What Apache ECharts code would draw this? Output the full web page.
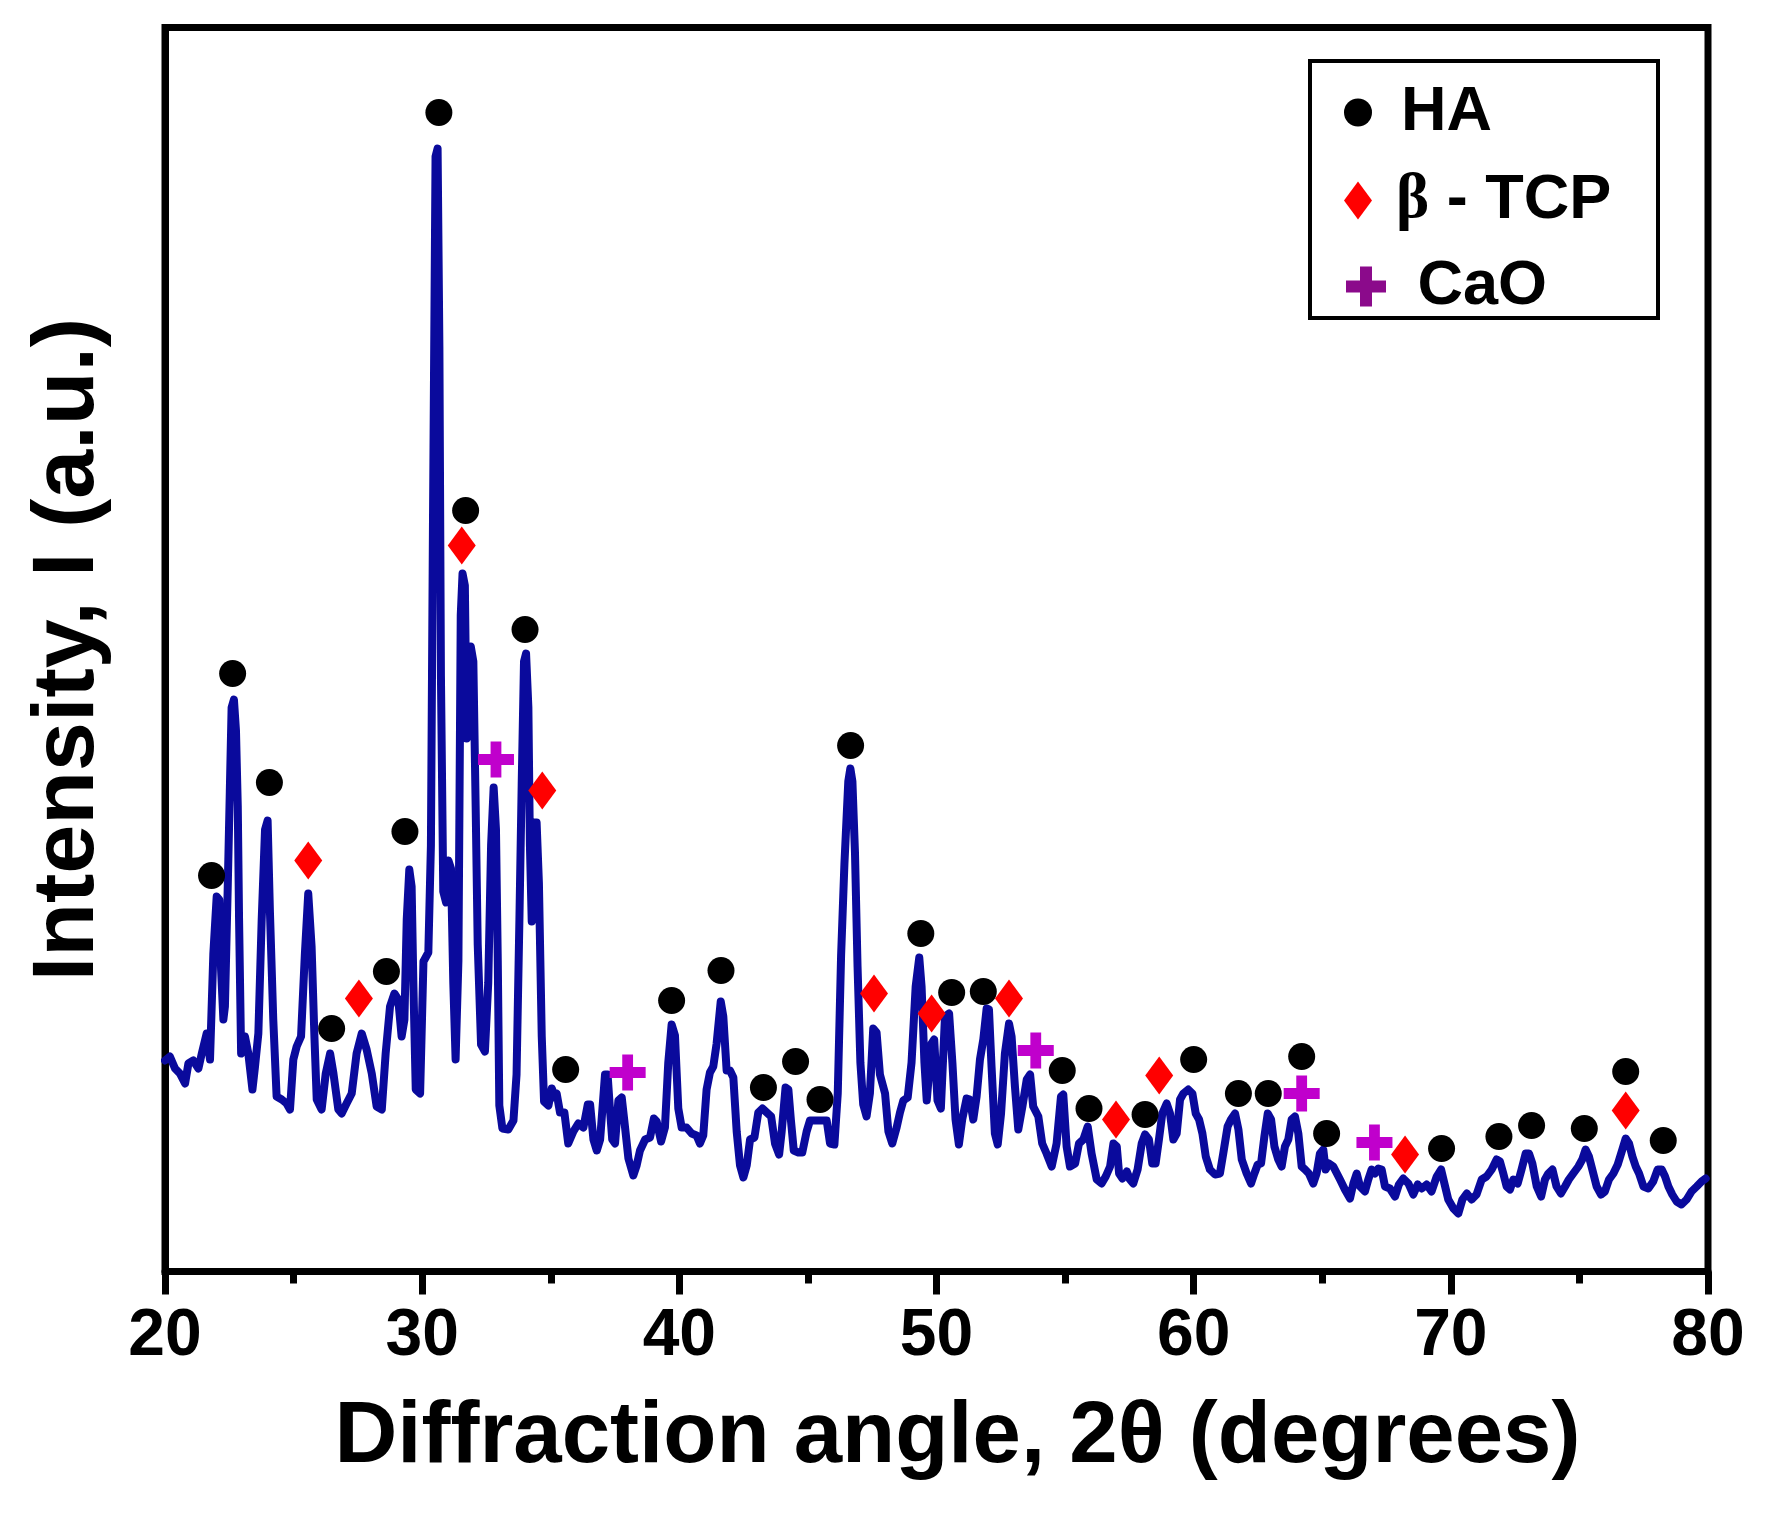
<!DOCTYPE html>
<html>
<head>
<meta charset="utf-8">
<script src="https://cdn.jsdelivr.net/npm/echarts@6/dist/echarts.min.js"></script>
<style>
html,body{margin:0;padding:0;background:#fff;}
#chart{width:1792px;height:1529px;}
</style>
</head>
<body>
<div id="chart"></div>
<script>
// XRD pattern: diffraction angle 2θ (degrees) and intensity (a.u.)
const twoTheta = [
20.00,20.19,20.39,20.58,20.78,20.91,21.10,21.30,21.43,21.62,21.75,21.88,22.01,22.11,22.18,22.27,22.33,22.44,22.52,22.59,22.68,22.76,22.83,22.88,22.96,23.11,23.24,23.40,23.50,23.63,23.76,23.89,23.99,24.08,24.21,24.34,24.54,24.73,24.86,24.99,25.12,25.29,25.44,25.57,25.70,25.81,25.90,26.09,26.25,26.42,26.55,26.74,26.87,27.06,27.26,27.45,27.65,27.84,28.04,28.23,28.43,28.58,28.75,28.92,29.07,29.20,29.31,29.40,29.50,29.59,29.66,29.75,29.92,30.05,30.24,30.34,
30.42,30.52,30.60,30.67,30.73,30.82,30.93,31.02,31.12,31.21,31.30,31.41,31.50,31.57,31.66,31.73,31.82,31.89,31.99,32.08,32.16,32.29,32.44,32.57,32.68,32.78,32.87,32.94,33.00,33.12,33.35,33.55,33.67,33.78,33.87,33.96,34.04,34.13,34.19,34.26,34.35,34.45,34.54,34.65,34.74,34.91,35.04,35.17,
35.23,35.36,35.53,35.68,35.88,36.07,36.27,36.44,36.53,36.66,36.79,36.92,37.11,37.21,37.30,37.39,37.50,37.63,37.76,37.86,38.02,38.21,38.34,38.47,38.67,38.86,39.01,39.12,39.29,39.44,39.57,39.70,39.83,39.96,40.09,40.28,40.48,40.67,40.80,40.93,41.06,41.19,41.32,41.45,41.61,41.71,41.84,41.97,42.10,42.23,42.36,42.49,42.62,42.75,42.92,43.07,43.23,43.40,43.57,43.72,43.88,43.98,44.13,44.24,44.34,44.45,44.63,44.78,44.95,45.08,45.21,45.34,45.53,45.73,45.86,46.03,46.16,46.29,46.42,46.57,46.65,46.73,46.83,46.93,47.04,47.15,47.28,47.41,47.54,47.67,47.80,48.00,48.13,48.28,48.45,48.58,48.71,48.88,49.03,49.19,49.33,49.42,49.53,49.62,49.68,49.81,49.91,50.04,50.17,
50.33,50.49,50.62,50.74,50.87,51.00,51.17,51.30,51.43,51.56,51.69,51.82,51.95,52.04,52.14,52.27,52.38,52.51,52.66,52.82,52.92,53.05,53.18,53.34,53.51,53.64,53.76,53.96,54.11,54.28,54.48,54.67,54.84,54.93,55.06,55.19,55.39,55.54,55.71,55.88,56.03,56.23,56.42,56.58,56.75,56.88,57.01,57.10,57.23,57.40,57.52,57.65,57.82,57.98,58.11,58.26,58.39,58.52,58.65,58.78,58.95,59.08,59.21,59.34,59.47,59.60,59.79,59.95,60.08,60.21,60.34,60.47,60.63,60.83,61.02,61.15,61.32,61.45,61.61,61.74,61.87,62.06,62.23,62.36,62.49,62.62,62.75,62.88,63.01,63.14,63.29,63.42,63.55,63.68,63.81,63.94,64.07,64.20,64.33,64.48,64.65,64.78,64.91,65.04,65.13,65.26,65.43,
65.69,65.88,66.08,66.21,66.34,66.47,66.66,66.79,66.92,67.05,67.18,67.31,67.44,67.63,67.83,67.98,68.15,68.35,68.54,68.71,68.87,69.06,69.25,69.45,69.62,69.75,69.90,70.10,70.29,70.45,70.62,70.81,71.00,71.20,71.39,71.59,71.78,71.91,72.04,72.17,72.30,72.43,72.60,72.75,72.91,73.04,73.17,73.34,73.51,73.66,73.79,73.95,74.11,74.28,74.44,74.59,74.76,74.96,75.11,75.24,75.37,75.50,75.67,75.84,75.99,76.15,76.32,76.49,76.67,76.80,76.93,77.06,77.19,77.32,77.49,77.68,77.87,78.04,78.20,78.33,78.46,78.61,78.78,78.97,79.17,79.36,79.56,79.75,79.91
];
const intensity = [
211,215,203,198,188,208,211,203,218,238,212,318,375,372,302,252,265,385,480,564,572,541,465,352,218,235,218,182,205,238,352,442,451,360,252,175,172,168,162,212,225,235,318,378,325,235,172,162,198,218,198,162,158,168,178,218,238,222,198,165,162,218,265,278,272,235,252,352,402,385,285,182,178,310,319,426,
748,1115,1123,924,595,380,369,411,403,289,212,311,656,698,686,533,579,625,610,465,327,227,220,289,426,484,442,311,166,143,142,151,197,350,487,610,618,564,426,350,449,449,388,235,170,166,183,174,
178,159,159,128,140,148,144,167,167,132,121,132,197,197,163,132,128,171,174,151,113,96,106,121,132,134,153,150,130,144,209,247,236,163,144,144,138,136,128,136,182,199,205,228,270,255,201,201,194,140,106,94,106,132,134,159,163,159,155,128,117,140,184,182,151,121,119,119,140,151,151,151,151,151,128,127,178,316,408,490,503,490,419,305,209,167,155,178,243,239,197,178,140,128,144,159,171,174,209,285,314,285,209,171,171,228,232,171,163,
255,258,208,152,127,152,173,172,152,175,212,232,263,262,205,138,127,158,218,248,235,185,142,165,192,197,165,155,128,118,105,128,175,177,125,105,108,128,132,145,118,92,88,95,105,128,125,98,93,100,92,88,102,128,137,132,108,108,132,158,168,158,132,138,172,178,182,178,158,152,138,115,102,97,98,118,145,152,158,142,112,98,88,98,107,108,135,158,152,125,112,105,125,132,152,155,138,105,102,98,88,98,118,122,102,108,105,
92,82,73,88,98,85,80,92,102,98,103,102,85,83,75,87,93,88,77,87,83,87,80,95,102,88,72,63,58,72,78,72,77,92,95,102,112,110,98,85,82,92,88,102,118,118,108,85,75,92,98,102,85,78,85,92,98,105,112,122,115,102,85,77,80,92,98,107,122,133,128,115,105,98,85,83,90,102,102,95,85,77,70,67,72,80,85,90,93
];
// Phase markers (2θ, marker height)
const haX  = [21.81,22.63,24.06,26.48,28.61,29.33,30.65,31.69,34.00,35.58,39.70,41.62,43.27,44.52,45.47,46.66,49.39,50.59,51.82,54.89,55.93,58.11,60.00,61.74,62.90,64.20,65.17,69.64,71.87,73.14,75.19,76.80,78.26];
const haY  = [396,598,489,243,300,440,1159,761,642,202,271,301,184,210,172,526,338,279,280,201,163,157,212,178,178,215,138,123,135,146,143,200,131];
const tcpX = [25.57,27.54,31.54,34.67,47.57,49.81,52.82,56.98,58.66,68.22,76.80];
const tcpY = [411,273,726,481,278,258,273,152,196,117,161];
const caoX = [32.87,37.99,53.86,64.20,67.03];
const caoY = [512,199,221,178,129];
const xTicks = [20,30,40,50,60,70,80];

const zip = (a,b) => a.map((v,i)=>[v,b[i]]);
const FONT = 'Liberation Sans';
const PLUS = 'path://M3.5,0h3v3.5h3.5v3h-3.5v3.5h-3v-3.5h-3.5v-3h3.5z';
const legendText = {fontFamily:FONT,fontWeight:'bold',fontSize:63,color:'#000'};

const chart = echarts.init(document.getElementById('chart'), null, {renderer:'canvas'});
chart.setOption({
  animation:false,
  backgroundColor:'#fff',
  grid:{left:165,right:84,top:27.5,bottom:257.5,show:true,borderColor:'#000',borderWidth:7,backgroundColor:'transparent'},
  xAxis:{
    type:'value',min:xTicks[0],max:xTicks[xTicks.length-1],interval:10,
    name:'Diffraction angle, 2θ (degrees)',nameLocation:'middle',nameGap:123,
    nameTextStyle:{fontFamily:FONT,fontWeight:'bold',fontSize:87,color:'#000',padding:[0,0,0,42]},
    axisLine:{show:true,lineStyle:{color:'#000',width:7}},
    axisTick:{show:true,inside:false,length:23,lineStyle:{color:'#000',width:7}},
    minorTick:{show:true,splitNumber:2,length:12,lineStyle:{color:'#000',width:7}},
    axisLabel:{show:true,margin:32,fontFamily:FONT,fontWeight:'bold',fontSize:66,color:'#000'},
    splitLine:{show:false},minorSplitLine:{show:false}
  },
  yAxis:{
    type:'value',min:0,max:1244,
    name:'Intensity, I (a.u.)',nameLocation:'middle',nameGap:52,
    nameTextStyle:{fontFamily:FONT,fontWeight:'bold',fontSize:88,color:'#000'},
    axisLine:{show:true,lineStyle:{color:'#000',width:7}},
    axisTick:{show:false},axisLabel:{show:false},splitLine:{show:false}
  },
  legend:[
    {
      orient:'vertical',left:1344,top:81,padding:0,itemWidth:28,itemHeight:38,
      textStyle:Object.assign({padding:[0,0,0,24]},legendText),
      data:[{name:'HA',icon:'circle'}],selectedMode:false
    },
    {
      orient:'vertical',left:1344,top:169,padding:0,itemWidth:28,itemHeight:38,
      textStyle:Object.assign({padding:[0,0,0,19],
        rich:{b:{fontFamily:'Liberation Serif',fontWeight:'bold',fontSize:63,color:'#000'}}},legendText),
      formatter:function(n){return '{b|β}'+n.slice(1);},
      data:[{name:'β - TCP',icon:'diamond'}],selectedMode:false
    },
    {
      orient:'vertical',left:1346,top:255,padding:0,itemWidth:41,itemHeight:40,
      textStyle:Object.assign({padding:[0,0,0,26]},legendText),
      data:[{name:'CaO',icon:PLUS,itemStyle:{color:'#8b0a8b',opacity:1}}],selectedMode:false
    }
  ],
  graphic:[
    {type:'rect',shape:{x:1310,y:61,width:348,height:257},style:{fill:'transparent',stroke:'#000',lineWidth:4},z:100}
  ],
  series:[
    {
      name:'XRD',type:'line',data:zip(twoTheta,intensity),showSymbol:false,smooth:false,
      lineStyle:{color:'#0a0a9c',width:8,join:'round',cap:'round'},itemStyle:{color:'#0a0a9c'},z:2,silent:true
    },
    {name:'HA',type:'scatter',data:zip(haX,haY),symbol:'circle',symbolSize:27,itemStyle:{color:'#000',opacity:1},z:5},
    {name:'β - TCP',type:'scatter',data:zip(tcpX,tcpY),symbol:'diamond',symbolSize:[28,38],itemStyle:{color:'#ff0000',opacity:1},z:5},
    {name:'CaO',type:'scatter',data:zip(caoX,caoY),symbol:PLUS,symbolSize:36,itemStyle:{color:'#c000cc',opacity:1},z:5}
  ]
});
</script>
</body>
</html>
